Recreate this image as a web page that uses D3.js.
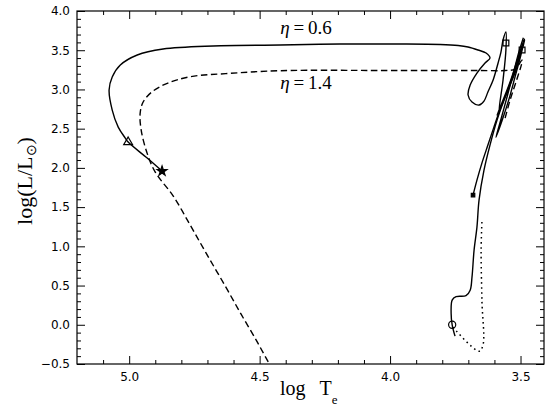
<!DOCTYPE html>
<html><head><meta charset="utf-8">
<script src="https://cdn.jsdelivr.net/npm/d3@7"></script>
<style>html,body{margin:0;padding:0;background:#fff;}</style>
</head><body>
<svg id="chart" width="554" height="413"></svg>
<script>
// ---------- data (log Te, log L/Lsun) ----------
const xMajorTicks = [5.0, 4.5, 4.0, 3.5];
const xMinorTicks = [5.1, 4.9, 4.8, 4.7, 4.6, 4.4, 4.3, 4.2, 4.1, 3.9, 3.8, 3.7, 3.6];
const yMajorTicks = [-0.5, 0.0, 0.5, 1.0, 1.5, 2.0, 2.5, 3.0, 3.5, 4.0];
const yMinorTicks = [-0.4,-0.3,-0.2,-0.1,0.1,0.2,0.3,0.4,0.6,0.7,0.8,0.9,1.1,1.2,1.3,1.4,1.6,1.7,1.8,1.9,
  2.1,2.2,2.3,2.4,2.6,2.7,2.8,2.9,3.1,3.2,3.3,3.4,3.6,3.7,3.8,3.9];
const yTickLabels = ["\u22120.5","0.0","0.5","1.0","1.5","2.0","2.5","3.0","3.5","4.0"];
const xTickLabels = ["5.0","4.5","4.0","3.5"];

// eta = 0.6 track (solid)
const trackEta06Te = [3.751,3.762,3.766,3.762,3.747,3.709,3.693,3.686,3.678,3.667,3.659,3.640,3.617,3.590,3.563,3.540,3.517,3.502,3.490,
  3.540,3.590,3.556,3.517,3.487,3.506,3.563,3.582,3.567,3.556,3.556,
  3.567,3.575,3.586,3.605,3.625,3.640,3.659,3.686,3.701,3.693,3.667,3.636,3.617,3.632,3.663,3.701,3.739,3.808,3.962,4.192,4.421,4.678,4.870,4.969,5.034,5.065,5.077,5.065,5.042,5.015,5.004,4.931,4.874];
const trackEta06L = [-0.145,0.0,0.148,0.314,0.358,0.371,0.441,0.607,0.952,1.245,1.589,1.972,2.291,2.610,2.865,3.056,3.247,3.439,3.605,
  3.094,2.673,2.929,3.298,3.630,3.426,2.865,2.712,3.120,3.503,3.732,
  3.630,3.477,3.337,3.120,2.967,2.852,2.801,2.839,2.929,3.056,3.209,3.337,3.401,3.464,3.503,3.541,3.560,3.573,3.579,3.579,3.566,3.554,3.515,3.439,3.311,3.158,2.992,2.737,2.520,2.380,2.329,2.125,1.959];

// second solid branch in the giant-branch bundle
const branchTe = [3.682,3.667,3.648,3.625,3.602,3.579,3.552,3.529,3.510,3.494,3.484,3.500,3.521,3.544,3.571,3.594,3.580,3.552,3.528,3.506,3.489];
const branchL  = [1.653,1.844,2.061,2.291,2.520,2.737,2.967,3.184,3.375,3.503,3.640,3.420,3.160,2.880,2.600,2.390,2.560,2.900,3.200,3.480,3.660];

// eta = 1.4 track (dashed)
const trackEta14Te = [3.559,3.540,3.525,3.510,3.498,3.494,3.521,3.559,3.655,3.962,4.421,4.613,4.766,4.854,4.912,4.946,4.958,4.954,4.931,4.900,4.831,4.766,4.705,4.636,4.571,4.513,4.475,4.462];
const trackEta14L  = [2.635,2.865,3.018,3.171,3.298,3.375,3.260,3.241,3.241,3.241,3.239,3.205,3.162,3.078,2.971,2.843,2.695,2.482,2.185,1.946,1.640,1.270,0.913,0.518,0.135,-0.196,-0.426,-0.503];

// pre-main-sequence (dotted)
const dottedTe = [3.759,3.659,3.644,3.648,3.651,3.648];
const dottedL  = [-0.031,-0.337,-0.260,0.314,0.952,1.309];

// markers
const markerType = ["circle","triangle","star","square","square","smallsquare"];
const markerTe   = [3.762, 5.004, 4.874, 3.556, 3.494, 3.682];
const markerL    = [0.0,   2.329, 1.959, 3.592, 3.503, 1.653];

const labelText = ["0.6", "1.4"];
const labelTe = [4.421, 4.421];
const labelL  = [3.709, 3.008];

// ---------- drawing ----------
const svg = d3.select("#chart");
const pL = 77, pR = 544, pT = 11, pB = 364;
const x = d3.scaleLinear().domain([5.2, 3.41]).range([pL, pR]);
const y = d3.scaleLinear().domain([-0.5, 4.0]).range([pB, pT]);

function axisStyle(g){
  g.select(".domain").remove();
  g.selectAll(".tick line").attr("stroke","#000").attr("stroke-width",1);
  g.selectAll(".tick text").attr("fill","#000").attr("font-family","DejaVu Sans, sans-serif").attr("font-size",12);
}
// bottom
svg.append("g").attr("transform",`translate(0,${pB})`)
  .call(d3.axisBottom(x).tickValues(xMajorTicks).tickSize(-8).tickPadding(8).tickFormat((d,i)=>xTickLabels[i])).call(axisStyle);
svg.append("g").attr("transform",`translate(0,${pB})`)
  .call(d3.axisBottom(x).tickValues(xMinorTicks).tickSize(-4).tickFormat("")).call(axisStyle);
// top
svg.append("g").attr("transform",`translate(0,${pT})`)
  .call(d3.axisTop(x).tickValues(xMajorTicks).tickSize(-8).tickFormat("")).call(axisStyle);
svg.append("g").attr("transform",`translate(0,${pT})`)
  .call(d3.axisTop(x).tickValues(xMinorTicks).tickSize(-4).tickFormat("")).call(axisStyle);
// left
svg.append("g").attr("transform",`translate(${pL},0)`)
  .call(d3.axisLeft(y).tickValues(yMajorTicks).tickSize(-8).tickPadding(7).tickFormat((d,i)=>yTickLabels[i])).call(axisStyle);
svg.append("g").attr("transform",`translate(${pL},0)`)
  .call(d3.axisLeft(y).tickValues(yMinorTicks).tickSize(-4).tickFormat("")).call(axisStyle);
// right
svg.append("g").attr("transform",`translate(${pR},0)`)
  .call(d3.axisRight(y).tickValues(yMajorTicks).tickSize(-8).tickFormat("")).call(axisStyle);
svg.append("g").attr("transform",`translate(${pR},0)`)
  .call(d3.axisRight(y).tickValues(yMinorTicks).tickSize(-4).tickFormat("")).call(axisStyle);

svg.append("rect").attr("x",pL).attr("y",pT).attr("width",pR-pL).attr("height",pB-pT)
  .attr("fill","none").attr("stroke","#000").attr("stroke-width",1.2);

svg.append("clipPath").attr("id","plotclip").append("rect")
  .attr("x",pL).attr("y",pT).attr("width",pR-pL).attr("height",pB-pT);
const plot = svg.append("g").attr("clip-path","url(#plotclip)");

const line = d3.line().x(d=>x(d[0])).y(d=>y(d[1])).curve(d3.curveCatmullRom.alpha(0.5));
const zip = (a,b)=>a.map((v,i)=>[v,b[i]]);

plot.append("path").attr("d", line(zip(trackEta06Te, trackEta06L)))
  .attr("fill","none").attr("stroke","#000").attr("stroke-width",1.4).attr("stroke-linejoin","round");
plot.append("path").attr("d", line(zip(branchTe, branchL)))
  .attr("fill","none").attr("stroke","#000").attr("stroke-width",1.4);
plot.append("path").attr("d", line(zip(trackEta14Te, trackEta14L)))
  .attr("fill","none").attr("stroke","#000").attr("stroke-width",1.4).attr("stroke-dasharray","6.5,3.5");
plot.append("path").attr("d", line(zip(dottedTe, dottedL)))
  .attr("fill","none").attr("stroke","#000").attr("stroke-width",1.5).attr("stroke-dasharray","1.6,3.4");

const symMap = {circle:[d3.symbolCircle,40,false], triangle:[d3.symbolTriangle,34,false], star:[d3.symbolStar,30,true],
  square:[d3.symbolSquare,34,false], smallsquare:[d3.symbolSquare,12,true]};
markerType.forEach((t,i)=>{
  const [s,size,filled] = symMap[t];
  plot.append("path").attr("d", d3.symbol(s,size)())
    .attr("transform",`translate(${x(markerTe[i])},${y(markerL[i])})`)
    .attr("fill", filled ? "#000" : "none").attr("stroke","#000").attr("stroke-width",1.2);
});

// eta labels
labelText.forEach((t,i)=>{
  const tx = svg.append("text").attr("x", x(labelTe[i])).attr("y", y(labelL[i]))
    .attr("font-family","Liberation Serif, serif").attr("font-size",19).attr("fill","#000");
  tx.append("tspan").attr("font-style","italic").text("\u03b7");
  tx.append("tspan").text("\u2009=\u2009" + t);
});

// axis titles
const xt = svg.append("text").attr("x", 280).attr("y", 395)
  .attr("font-family","Liberation Serif, serif").attr("font-size",20).attr("fill","#000");
xt.append("tspan").text("log\u2002\u2009T");
xt.append("tspan").attr("font-size",13).attr("dy",9).text("e");

const yt = svg.append("text").attr("transform","translate(32,181) rotate(-90)").attr("text-anchor","middle")
  .attr("font-family","Liberation Serif, serif").attr("font-size",22).attr("fill","#000");
yt.append("tspan").text("log(L/L");
yt.append("tspan").attr("font-size",14).attr("dy",4).text("\u2299");
yt.append("tspan").attr("dy",-4).text(")");
</script>
</body></html>
